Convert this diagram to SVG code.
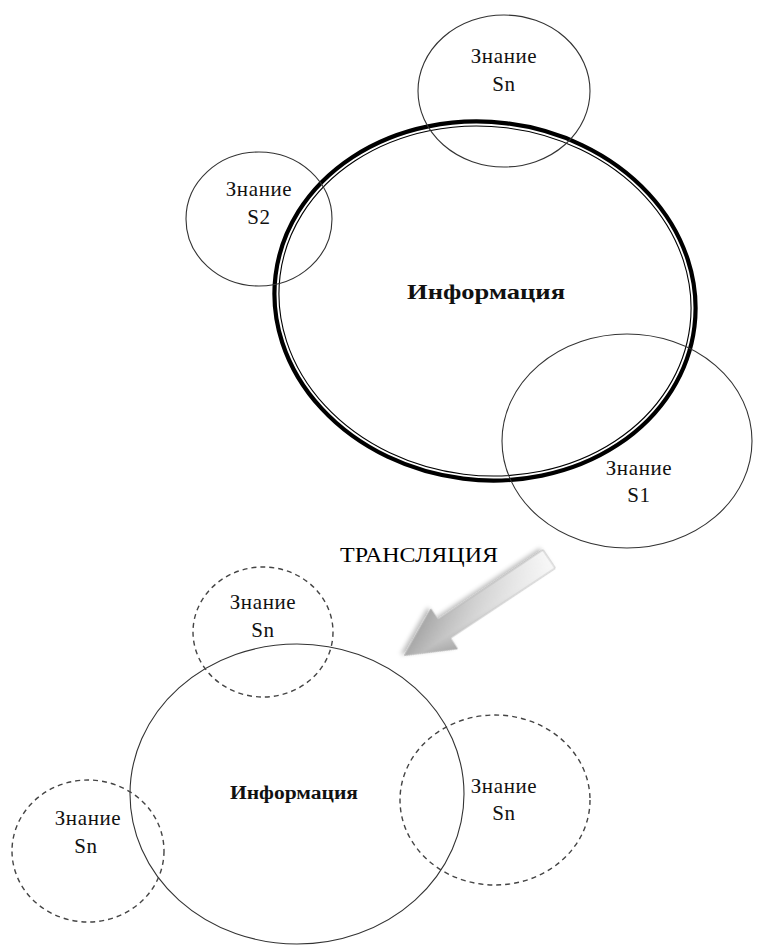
<svg xmlns="http://www.w3.org/2000/svg" width="766" height="949" viewBox="0 0 766 949">
  <style>
    .thin { fill: none; stroke: #333; stroke-width: 1.1; }
    .dash { fill: none; stroke: #444; stroke-width: 1.4; stroke-dasharray: 5 4; }
    .lbl { font-family: "Liberation Serif", "Times New Roman", serif; font-size: 21px; fill: #111; text-anchor: middle; letter-spacing: 0.6px; }
    .bold { font-family: "Liberation Serif", "Times New Roman", serif; font-weight: bold; fill: #111; text-anchor: middle; }
    .title { font-family: "Liberation Serif", "Times New Roman", serif; font-size: 20px; fill: #000; text-anchor: middle; }
  </style>
  <defs>
    <linearGradient id="arrowGrad" x1="0" y1="0" x2="1" y2="0">
      <stop offset="0" stop-color="#f4f4f4"/>
      <stop offset="0.5" stop-color="#c4c4c4"/>
      <stop offset="1" stop-color="#8a8a8a"/>
    </linearGradient>
    <linearGradient id="arrowHi" x1="0" y1="0" x2="0" y2="1">
      <stop offset="0" stop-color="#fff" stop-opacity="0"/>
      <stop offset="0.35" stop-color="#fff" stop-opacity="0.35"/>
      <stop offset="1" stop-color="#fff" stop-opacity="0"/>
    </linearGradient>
    <filter id="shadow" x="-20%" y="-20%" width="140%" height="140%">
      <feDropShadow dx="2" dy="3" stdDeviation="2" flood-color="#000" flood-opacity="0.25"/>
    </filter>
  </defs>
  <rect width="766" height="949" fill="#fff"/>

  <!-- Upper diagram -->
  <g id="info-top">
    <g transform="rotate(7 485 301)">
      <ellipse cx="485" cy="301" rx="211" ry="179" fill="none" stroke="#000" stroke-width="4.2"/>
      <ellipse cx="485" cy="301" rx="206.5" ry="174.5" fill="none" stroke="#000" stroke-width="1.1"/>
    </g>
    <text class="bold" x="486" y="299" font-size="21" textLength="158" lengthAdjust="spacingAndGlyphs">Информация</text>
  </g>
  <g id="sn-top">
    <ellipse class="thin" cx="504" cy="91" rx="86" ry="76"/>
    <text class="lbl" x="504" y="63">Знание</text>
    <text class="lbl" x="504" y="91">Sn</text>
  </g>
  <g id="s2">
    <ellipse class="thin" cx="259" cy="219" rx="73" ry="67"/>
    <text class="lbl" x="259" y="196">Знание</text>
    <text class="lbl" x="259" y="224">S2</text>
  </g>
  <g id="s1">
    <ellipse class="thin" cx="627" cy="441" rx="125" ry="107"/>
    <text class="lbl" x="639" y="475">Знание</text>
    <text class="lbl" x="639" y="502">S1</text>
  </g>

  <!-- Translation arrow -->
  <g id="translation">
    <text class="title" x="419" y="562" textLength="158" lengthAdjust="spacingAndGlyphs">ТРАНСЛЯЦИЯ</text>
  </g>
  <g id="connectors">
    <g transform="translate(549 559) rotate(146.3)" filter="url(#shadow)">
      <polygon points="0,-11 126,-11 126,-24 174,0 126,24 126,11 0,11" fill="url(#arrowGrad)" stroke="#aaa" stroke-width="0.8"/>
      <polygon points="0,-11 126,-11 126,-24 174,0 126,24 126,11 0,11" fill="url(#arrowHi)"/>
    </g>
  </g>

  <!-- Lower diagram -->
  <g id="info-bottom">
    <ellipse class="thin" cx="297" cy="794" rx="167" ry="150" stroke-width="1.3"/>
    <text class="bold" x="294" y="799" font-size="18" textLength="128" lengthAdjust="spacingAndGlyphs">Информация</text>
  </g>
  <g id="sn-bottom-top">
    <ellipse class="dash" cx="263" cy="632" rx="70" ry="65"/>
    <text class="lbl" x="263" y="609">Знание</text>
    <text class="lbl" x="263" y="637">Sn</text>
  </g>
  <g id="sn-bottom-left">
    <ellipse class="dash" cx="88" cy="851" rx="76" ry="71"/>
    <text class="lbl" x="88" y="825">Знание</text>
    <text class="lbl" x="86" y="853">Sn</text>
  </g>
  <g id="sn-bottom-right">
    <ellipse class="dash" cx="495" cy="800" rx="95" ry="85"/>
    <text class="lbl" x="504" y="793">Знание</text>
    <text class="lbl" x="504" y="820">Sn</text>
  </g>
</svg>
